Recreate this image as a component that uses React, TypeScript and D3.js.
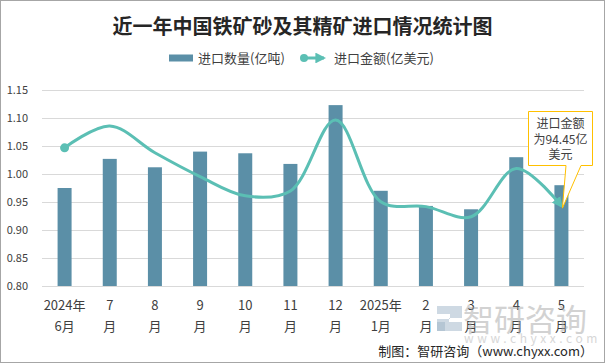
import { useEffect, useRef } from 'react'
import * as d3 from 'd3'

const months = ['6', '7', '8', '9', '10', '11', '12', '1', '2', '3', '4', '5']
const labelTop = ['2024年', '7', '8', '9', '10', '11', '12', '2025年', '2', '3', '4', '5']
const labelBottom = ['6月', '月', '月', '月', '月', '月', '月', '1月', '月', '月', '月', '月']
const volume = [0.975, 1.027, 1.012, 1.04, 1.037, 1.018, 1.123, 0.97, 0.943, 0.937, 1.03, 0.98]
const amount = [112.3, 119.0, 110.8, 103.5, 97.6, 99.1, 120.8, 95.8, 94.3, 91.2, 106.0, 94.45]
const yTicks = [0.8, 0.85, 0.9, 0.95, 1.0, 1.05, 1.1, 1.15]

const barColor = '#5b8fa7'
const lineColor = '#5bbfb4'
const textColor = '#404040'
const font = "'Noto Sans CJK SC', 'Microsoft YaHei', sans-serif"

export default function App() {
	const ref = useRef(null)

	const width = 605
	const height = 363
	const plot = { left: 42, right: 584, top: 90, bottom: 286 }

	useEffect(() => {
		const svg = d3.select(ref.current)
		svg.selectAll('*').remove()

		svg
			.append('rect')
			.attr('x', 0.5)
			.attr('y', 0.5)
			.attr('width', width - 1)
			.attr('height', height - 1)
			.attr('fill', '#fff')
			.attr('stroke', '#a6a6a6')

		// title
		svg
			.append('text')
			.attr('x', width / 2)
			.attr('y', 34)
			.attr('text-anchor', 'middle')
			.style('font', `bold 20px ${font}`)
			.attr('fill', '#262626')
			.text('近一年中国铁矿砂及其精矿进口情况统计图')

		const x = d3
			.scaleBand()
			.domain(months.map((m, i) => i + '_' + m))
			.range([plot.left, plot.right])
		const keys = x.domain()
		const y = d3.scaleLinear().domain([0.8, 1.15]).range([plot.bottom, plot.top])
		// hidden secondary axis for the amount series
		const y2 = d3.scaleLinear().domain([70, 130]).range([plot.bottom, plot.top])

		// grid
		svg
			.append('g')
			.selectAll('line')
			.data(yTicks)
			.enter()
			.append('line')
			.attr('x1', plot.left)
			.attr('x2', plot.right)
			.attr('y1', (d) => Math.round(y(d)) + 0.5)
			.attr('y2', (d) => Math.round(y(d)) + 0.5)
			.attr('stroke', '#d9d9d9')

		svg
			.append('g')
			.selectAll('text')
			.data(yTicks)
			.enter()
			.append('text')
			.attr('x', 28)
			.attr('y', (d) => y(d) + 4)
			.attr('text-anchor', 'end')
			.style('font', `11px ${font}`)
			.attr('fill', textColor)
			.text((d) => d3.format('.2f')(d))

		// bars
		const barW = 14
		svg
			.append('g')
			.selectAll('rect')
			.data(volume)
			.enter()
			.append('rect')
			.attr('x', (d, i) => x(keys[i]) + x.bandwidth() / 2 - barW / 2)
			.attr('y', (d) => y(d))
			.attr('width', barW)
			.attr('height', (d) => y(0.8) - y(d))
			.attr('fill', barColor)

		// x labels
		const xl = svg.append('g')
		keys.forEach((k, i) => {
			const cx = x(k) + x.bandwidth() / 2
			xl.append('text')
				.attr('x', cx)
				.attr('y', 310)
				.attr('text-anchor', 'middle')
				.style('font', `13px ${font}`)
				.attr('fill', textColor)
				.text(labelTop[i])
			xl.append('text')
				.attr('x', cx)
				.attr('y', 331)
				.attr('text-anchor', 'middle')
				.style('font', `13px ${font}`)
				.attr('fill', textColor)
				.text(labelBottom[i])
		})

		// arrow marker
		const defs = svg.append('defs')
		defs
			.append('marker')
			.attr('id', 'arrow')
			.attr('viewBox', '0 0 10 10')
			.attr('refX', 8)
			.attr('refY', 5)
			.attr('markerWidth', 3.6)
			.attr('markerHeight', 3.6)
			.attr('orient', 'auto')
			.append('path')
			.attr('d', 'M0,0 L10,5 L0,10 z')
			.attr('fill', lineColor)

		const line = d3
			.line<number>()
			.x((d, i) => x(keys[i]) + x.bandwidth() / 2)
			.y((d) => y2(d))
			.curve(d3.curveCatmullRom.alpha(0.5))

		svg
			.append('path')
			.datum(amount)
			.attr('d', line)
			.attr('fill', 'none')
			.attr('stroke', lineColor)
			.attr('stroke-width', 3)
			.attr('marker-end', 'url(#arrow)')

		svg
			.append('circle')
			.attr('cx', x(keys[0]) + x.bandwidth() / 2)
			.attr('cy', y2(amount[0]))
			.attr('r', 4.5)
			.attr('fill', lineColor)

		// legend
		const lg = svg.append('g').style('font', `13px ${font}`)
		lg.append('rect')
			.attr('x', 169)
			.attr('y', 54.5)
			.attr('width', 24)
			.attr('height', 7)
			.attr('fill', barColor)
		lg.append('text').attr('x', 198).attr('y', 63).attr('fill', textColor).text('进口数量(亿吨)')
		lg.append('line')
			.attr('x1', 304)
			.attr('x2', 324)
			.attr('y1', 58)
			.attr('y2', 58)
			.attr('stroke', lineColor)
			.attr('stroke-width', 3)
			.attr('marker-end', 'url(#arrow)')
		lg.append('circle').attr('cx', 304).attr('cy', 58).attr('r', 4).attr('fill', lineColor)
		lg.append('text').attr('x', 334).attr('y', 63).attr('fill', textColor).text('进口金额(亿美元)')

		// callout for the last point
		const lx = x(keys[11]) + x.bandwidth() / 2
		const ly = y2(amount[11])
		svg
			.append('path')
			.attr(
				'd',
				`M528.5,111.5 H592.5 V165.5 H581 L${lx + 1},${ly + 2} L566,165.5 H528.5 Z`
			)
			.attr('fill', '#fff')
			.attr('stroke', '#ffc000')
		const callout = ['进口金额', '为94.45亿', '美元']
		callout.forEach((t, i) => {
			svg
				.append('text')
				.attr('x', 560.5)
				.attr('y', 128 + i * 15.5)
				.attr('text-anchor', 'middle')
				.style('font', `12px ${font}`)
				.attr('fill', textColor)
				.text(t)
		})

		// watermark
		const wm = svg.append('g').attr('opacity', 0.5)
		wm.append('path')
			.attr('d', 'M437,306 H462 V318 H449 V322 H462 V331 H437 V319 H450 V314 H437 Z')
			.attr('fill', '#9fb4c8')
		wm.append('rect').attr('x', 437).attr('y', 322).attr('width', 8).attr('height', 9).attr('fill', '#6e8eab')
		wm.append('text')
			.attr('x', 463)
			.attr('y', 331)
			.style('font', `31px ${font}`)
			.attr('fill', '#a6a6a6')
			.text('智研咨询')
		wm.append('text')
			.attr('x', 464)
			.attr('y', 343)
			.style('font', `12px ${font}`)
			.style('letter-spacing', '3.6px')
			.attr('fill', '#b0b0b0')
			.text('www.chyxx.com')

		// source
		svg
			.append('text')
			.attr('x', 593)
			.attr('y', 356)
			.attr('text-anchor', 'end')
			.style('font', `13px ${font}`)
			.attr('fill', '#262626')
			.text('制图：智研咨询（www.chyxx.com）')
	}, [])

	return (
		<svg
			ref={ref}
			width={width}
			height={height}
			style={{ position: 'absolute', left: 0, top: 0 }}
		/>
	)
}
